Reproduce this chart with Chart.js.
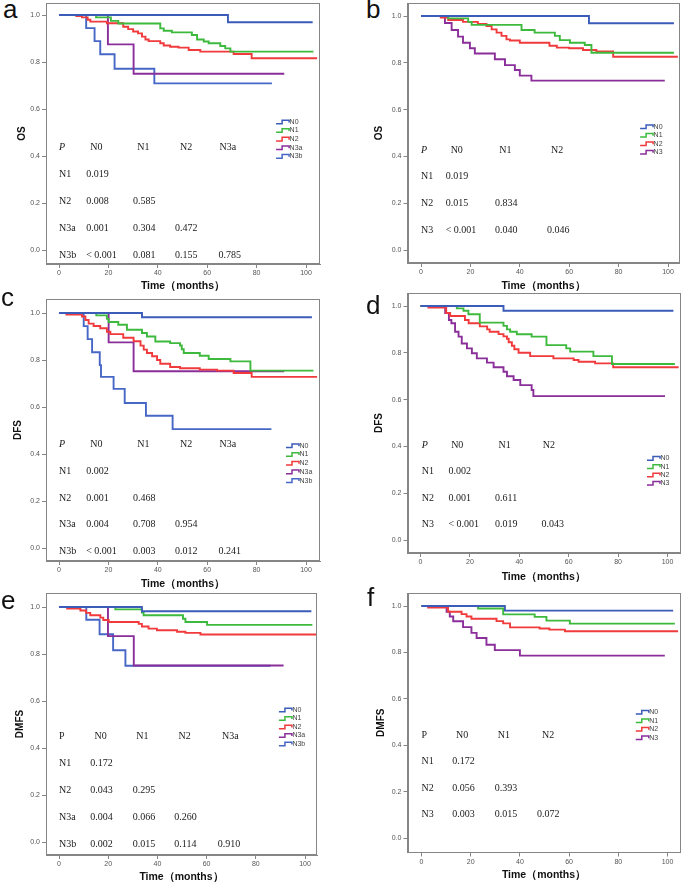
<!DOCTYPE html>
<html>
<head>
<meta charset="utf-8">
<script src="https://cdn.jsdelivr.net/npm/chart.js@4.4.1/dist/chart.umd.min.js"></script>
<style>
  body { margin: 0; background: #fff; width: 685px; height: 884px; position: relative; overflow: hidden; font-family: "Liberation Sans", Arial, sans-serif; }
  canvas { position: absolute; }
  .tag { position: absolute; font-size: 26px; line-height: 1; color: #111; }
</style>
</head>
<body>
<script>
// axis ticks
const monthTicks = [0, 20, 40, 60, 80, 100];
const survTicks = [0, 0.2, 0.4, 0.6, 0.8, 1.0];

// groups
const groups5 = ['N0', 'N1', 'N2', 'N3a', 'N3b'];
const groups4 = ['N0', 'N1', 'N2', 'N3'];

// a: OS, 5 groups  [month, survival]
const a_N0 = [[0,1],[68.4,0.969],[102.7,0.969]];
const a_N1 = [[0,1],[15,0.99],[21,0.975],[24,0.964],[41,0.943],[42.4,0.933],[45.7,0.926],[53.8,0.915],[55.9,0.896],[58.6,0.887],[60.6,0.88],[65.3,0.868],[67.3,0.858],[69.4,0.844],[103,0.844]];
const a_N2 = [[0,1],[7,0.996],[9.3,0.99],[11.6,0.98],[12.7,0.972],[19.4,0.965],[26,0.95],[28,0.94],[30,0.93],[32,0.922],[33.6,0.908],[35,0.896],[36.3,0.889],[41,0.88],[42.4,0.87],[45,0.865],[48.4,0.861],[52.5,0.851],[57.2,0.844],[70.7,0.834],[78,0.816],[104.5,0.816]];
const a_N3a = [[0,1],[19.8,0.875],[30.2,0.75],[91.2,0.75]];
const a_N3b = [[0,1],[11,0.944],[14.4,0.889],[16.7,0.833],[22.5,0.771],[38.6,0.709],[86.2,0.709]];
const aP = [['0.019'], ['0.008','0.585'], ['0.001','0.304','0.472'], ['< 0.001','0.081','0.155','0.785']];

// b: OS, 4 groups
const b_N0 = [[0,1],[68,0.969],[102.4,0.969]];
const b_N1 = [[0,1],[11,0.99],[19.1,0.975],[20.5,0.962],[40.7,0.94],[46,0.929],[54.2,0.915],[56.2,0.897],[60.3,0.886],[66.3,0.876],[69,0.843],[102.4,0.843]];
const b_N2 = [[0,1],[8,0.993],[11,0.983],[17,0.975],[23,0.966],[26.5,0.957],[28.6,0.943],[30.6,0.929],[32.6,0.915],[34.6,0.9],[36,0.895],[40,0.886],[52,0.873],[55,0.865],[60,0.862],[65.6,0.855],[71,0.848],[77.8,0.826],[104,0.826]];
const b_N3 = [[0,1],[9.7,0.97],[12.4,0.94],[15,0.912],[17,0.886],[19.8,0.862],[21.8,0.84],[29.9,0.815],[34,0.79],[38,0.769],[40,0.745],[44.7,0.724],[98.7,0.724]];
const bP = [['0.019'], ['0.015','0.834'], ['< 0.001','0.040','0.046']];

// c: DFS, 5 groups
const c_N0 = [[0,1],[33.6,0.982],[102.4,0.982]];
const c_N1 = [[0,1],[15.1,0.99],[19.4,0.975],[20.1,0.962],[24,0.95],[27.5,0.929],[33.6,0.915],[35.6,0.9],[39,0.879],[45,0.872],[49,0.862],[49.7,0.846],[50.5,0.83],[57,0.818],[60.6,0.804],[69.4,0.794],[77.5,0.755],[103,0.755]];
const c_N2 = [[0,1],[3,0.993],[9.3,0.985],[10.7,0.97],[12,0.955],[14,0.945],[16.7,0.935],[19.4,0.92],[20.8,0.91],[26,0.895],[30.2,0.88],[33,0.861],[34.3,0.844],[35.6,0.83],[37.7,0.816],[39.7,0.8],[41,0.784],[45,0.77],[49,0.765],[57,0.759],[64,0.755],[70.7,0.745],[78,0.728],[104.5,0.728]];
const c_N3a = [[0,1],[20.1,0.875],[30.2,0.752],[91.2,0.752]];
const c_N3b = [[0,1],[10,0.944],[11.6,0.889],[13.4,0.833],[16.5,0.778],[17,0.728],[22.1,0.677],[26.6,0.617],[35.2,0.563],[46,0.506],[86,0.506]];
const cP = [['0.002'], ['0.001','0.468'], ['0.004','0.708','0.954'], ['< 0.001','0.003','0.012','0.241']];

// d: DFS, 4 groups
const d_N0 = [[0,1],[33.6,0.98],[102.4,0.98]];
const d_N1 = [[0,1],[14.7,0.99],[17.4,0.98],[19.4,0.965],[24,0.929],[33.6,0.915],[35,0.9],[36.3,0.89],[39,0.879],[45,0.869],[51,0.833],[59,0.819],[60.6,0.805],[70,0.786],[77.5,0.752],[103,0.752]];
const d_N2 = [[0,1],[3.2,0.993],[10.4,0.97],[12,0.957],[18,0.94],[19.5,0.926],[24,0.913],[27,0.9],[28,0.89],[31.6,0.88],[33.6,0.87],[35,0.86],[35.7,0.845],[37,0.83],[38,0.815],[39.7,0.8],[44.4,0.786],[53.8,0.776],[62,0.769],[64,0.762],[70.7,0.755],[78,0.738],[104.5,0.738]];
const d_N3 = [[0,1],[10,0.97],[11.5,0.94],[12.5,0.926],[14,0.89],[15.4,0.869],[16.7,0.84],[18.8,0.819],[20.8,0.798],[22.8,0.776],[26.9,0.758],[29.6,0.738],[33.6,0.719],[35,0.7],[37.7,0.684],[40.4,0.662],[45,0.641],[45.7,0.615],[99,0.615]];
const dP = [['0.002'], ['0.001','0.611'], ['< 0.001','0.019','0.043']];

// e: DMFS, 5 groups
const e_N0 = [[0,1],[33.7,0.982],[102.6,0.982]];
const e_N1 = [[0,1],[22.9,0.99],[33.7,0.976],[34.4,0.965],[50.4,0.95],[51.4,0.936],[60.2,0.924],[103,0.924]];
const e_N2 = [[0,1],[3.3,0.993],[8.7,0.985],[11,0.975],[12.7,0.965],[16.8,0.955],[18,0.945],[20.2,0.936],[32.4,0.928],[33.7,0.917],[36.4,0.908],[39.8,0.901],[48,0.895],[51.4,0.89],[57.5,0.883],[104.9,0.883]];
const e_N3a = [[0,1],[19.9,0.876],[30.4,0.751],[91.3,0.751]];
const e_N3b = [[0,1],[11.1,0.946],[16.5,0.884],[22,0.816],[27,0.75],[86,0.75]];
const eP = [['0.172'], ['0.043','0.295'], ['0.004','0.066','0.260'], ['0.002','0.015','0.114','0.910']];

// f: DMFS, 4 groups
const f_N0 = [[0,1],[33.9,0.98],[102.3,0.98]];
const f_N1 = [[0,1],[23,0.989],[33.2,0.964],[46,0.953],[50.8,0.937],[60.3,0.924],[103,0.924]];
const f_N2 = [[0,1],[2.7,0.993],[10.8,0.975],[16.3,0.965],[18.3,0.955],[20.3,0.945],[30.5,0.935],[33.2,0.925],[36,0.908],[48,0.903],[52,0.898],[58.3,0.891],[104.3,0.891]];
const f_N3 = [[0,1],[10.2,0.975],[11.5,0.955],[12.9,0.934],[16.9,0.909],[20.3,0.884],[22.4,0.862],[26.4,0.833],[29.8,0.81],[40,0.786],[98.9,0.786]];
const fP = [['0.172'], ['0.056','0.393'], ['0.003','0.015','0.072']];

const colors5 = ['#3b5cb8', '#3dba3d', '#f03a3c', '#8a2e9a', '#4767c6'];
const colors4 = ['#3b5cb8', '#3dba3d', '#f03a3c', '#8a2e9a'];
const axisGray = '#858585';

Chart.defaults.font.family = '"Liberation Sans", Arial, sans-serif';

const panels = [
  { tag: 'a', tagPos: [3, -4], cv: [0, 0, 335, 292], box: [46, 3, 320, 264], x0: 59, x100: 306, y1: 15, y0: 250, yTitleX: 22, xTitleY: 287,
    yTitle: 'OS', groups: groups5, colors: colors5, curves: [a_N0, a_N1, a_N2, a_N3a, a_N3b], p: aP, italicP: true,
    legend: [87.9, 0.545, 8.6], tHead: [0, 12.7, 31.7, 49, 65], tVal: [0, 11, 30, 47, 64.6], tRow: [0.438, 0.115] },
  { tag: 'b', tagPos: [366, -4], cv: [340, 0, 685, 292], box: [407.5, 3, 679.5, 263], x0: 421, x100: 668, y1: 16, y0: 250, yTitleX: 379, xTitleY: 287,
    yTitle: 'OS', groups: groups4, colors: colors4, curves: [b_N0, b_N1, b_N2, b_N3], p: bP, italicP: true,
    legend: [88.7, 0.527, 8.5], tHead: [0, 12, 31.7, 52.6], tVal: [0, 10, 30, 51], tRow: [0.427, 0.114] },
  { tag: 'c', tagPos: [1, 284], cv: [0, 292, 335, 590], box: [46, 299, 320, 561], x0: 59, x100: 306, y1: 313, y0: 548, yTitleX: 18, xTitleY: 585,
    yTitle: 'DFS', groups: groups5, colors: colors5, curves: [c_N0, c_N1, c_N2, c_N3a, c_N3b], p: cP, italicP: true,
    legend: [91.9, 0.435, 8.7], tHead: [0, 12.7, 31.7, 49, 65], tVal: [0, 11, 30, 47, 64.6], tRow: [0.44, 0.1135] },
  { tag: 'd', tagPos: [366, 292], cv: [340, 292, 685, 590], box: [407.5, 293, 680, 553], x0: 420.5, x100: 667.5, y1: 306, y0: 540, yTitleX: 379, xTitleY: 577,
    yTitle: 'DFS', groups: groups4, colors: colors4, curves: [d_N0, d_N1, d_N2, d_N3], p: dP, italicP: true,
    legend: [91.7, 0.349, 8.3], tHead: [0.5, 12.4, 31.6, 49.5], tVal: [0.5, 11.3, 30.2, 49], tRow: [0.406, 0.113] },
  { tag: 'e', tagPos: [1, 587], cv: [0, 590, 335, 884], box: [46, 593, 317, 855], x0: 59, x100: 305, y1: 607, y0: 842, yTitleX: 20, xTitleY: 877,
    yTitle: 'DMFS', groups: groups5, colors: colors5, curves: [e_N0, e_N1, e_N2, e_N3a, e_N3b], p: eP, italicP: false,
    legend: [89.4, 0.562, 8.5], tHead: [0, 14.4, 31.4, 48.6, 66.3], tVal: [0, 12.7, 30, 46.9, 64.5], tRow: [0.448, 0.114] },
  { tag: 'f', tagPos: [367, 584], cv: [340, 590, 685, 884], box: [407.5, 593, 680.5, 852.5], x0: 421.5, x100: 667.5, y1: 606, y0: 838, yTitleX: 381, xTitleY: 875,
    yTitle: 'DMFS', groups: groups4, colors: colors4, curves: [f_N0, f_N1, f_N2, f_N3], p: fP, italicP: false,
    legend: [87.1, 0.542, 8.5], tHead: [0, 14, 31, 49], tVal: [0, 12.5, 29.8, 47], tRow: [0.443, 0.114] }
];

// box, legend and p-value table
const extras = {
  id: 'extras',
  afterDraw(chart, args, o) {
    const { ctx, chartArea: ca } = chart;
    const xs = chart.scales.x, ys = chart.scales.y;
    ctx.save();
    ctx.strokeStyle = axisGray;
    ctx.lineWidth = 1;
    ctx.strokeRect(Math.round(ca.left) + 0.5, Math.round(ca.top) + 0.5, Math.round(ca.width) - 1, Math.round(ca.height) - 1);

    const lx = xs.getPixelForValue(o.legend[0]);
    const ly = ys.getPixelForValue(o.legend[1]);
    ctx.font = '7px "Liberation Sans", Arial, sans-serif';
    ctx.textBaseline = 'middle';
    ctx.textAlign = 'left';
    o.groups.forEach((g, i) => {
      const yy = ly + i * o.legend[2];
      ctx.strokeStyle = o.colors[i];
      ctx.lineWidth = 1.5;
      ctx.beginPath();
      ctx.moveTo(lx, yy + 1.8);
      ctx.lineTo(lx + 6, yy + 1.8);
      ctx.lineTo(lx + 6, yy - 1.8);
      ctx.lineTo(lx + 13, yy - 1.8);
      ctx.lineTo(lx + 13, yy + 0.5);
      ctx.stroke();
      ctx.fillStyle = '#444';
      ctx.fillText(g, lx + 13.5, yy);
    });

    const rowY = k => ys.getPixelForValue(o.tRow[0] - k * o.tRow[1]);
    ctx.fillStyle = '#1a1a1a';
    ctx.font = (o.italicP ? 'italic ' : '') + '10px "Liberation Serif", serif';
    ctx.fillText('P', xs.getPixelForValue(o.tHead[0]), rowY(0));
    ctx.font = '10px "Liberation Serif", serif';
    o.groups.slice(0, -1).forEach((g, j) => ctx.fillText(g, xs.getPixelForValue(o.tHead[j + 1]), rowY(0)));
    o.groups.slice(1).forEach((g, i) => {
      ctx.fillText(g, xs.getPixelForValue(o.tVal[0]), rowY(i + 1));
      o.p[i].forEach((v, j) => ctx.fillText(v, xs.getPixelForValue(o.tVal[j + 1]), rowY(i + 1)));
    });
    ctx.restore();
  }
};

panels.forEach(pn => {
  const [cl, ct, cr, cb] = pn.cv;
  const [bl, bt, br, bb] = pn.box;
  const pxm = (pn.x100 - pn.x0) / 100;
  const pxs = pn.y0 - pn.y1;

  const tag = document.createElement('div');
  tag.className = 'tag';
  tag.textContent = pn.tag;
  tag.style.left = pn.tagPos[0] + 'px';
  tag.style.top = pn.tagPos[1] + 'px';
  document.body.appendChild(tag);

  const canvas = document.createElement('canvas');
  canvas.width = cr - cl;
  canvas.height = cb - ct;
  canvas.style.left = cl + 'px';
  canvas.style.top = ct + 'px';
  document.body.appendChild(canvas);

  const titleFont = 10.5;
  new Chart(canvas, {
    type: 'line',
    data: {
      datasets: pn.curves.map((c, i) => ({
        label: pn.groups[i],
        data: c.map(p => ({ x: p[0], y: p[1] })),
        borderColor: pn.colors[i],
        borderWidth: 1.9,
        stepped: 'before',
        pointRadius: 0,
        fill: false
      }))
    },
    options: {
      responsive: false,
      devicePixelRatio: 1,
      animation: false,
      layout: { padding: { left: 0, top: bt - ct, right: cr - br, bottom: 0 } },
      plugins: {
        legend: { display: false },
        tooltip: { enabled: false },
        extras: pn
      },
      scales: {
        x: {
          type: 'linear',
          min: (bl - pn.x0) / pxm,
          max: (br - pn.x0) / pxm,
          afterBuildTicks: s => { s.ticks = monthTicks.map(v => ({ value: v })); },
          afterFit: s => { s.height = cb - bb; s.paddingLeft = 0; s.paddingRight = 0; },
          grid: { drawOnChartArea: false, drawTicks: true, tickLength: 4, color: axisGray },
          border: { display: true, color: axisGray },
          ticks: { font: { size: 7 }, color: '#555', padding: 1, maxRotation: 0, autoSkip: false, callback: v => v },
          title: {
            display: true, text: 'Time（months）', color: '#111',
            font: { size: titleFont, weight: 'bold' },
            padding: { top: 0, bottom: Math.max(0, cb - pn.xTitleY - titleFont * 0.6) }
          }
        },
        y: {
          type: 'linear',
          min: -(bb - pn.y0) / pxs,
          max: 1 + (pn.y1 - bt) / pxs,
          afterBuildTicks: s => { s.ticks = survTicks.map(v => ({ value: v })); },
          afterFit: s => { s.width = bl - cl; s.paddingTop = 0; s.paddingBottom = 0; },
          grid: { drawOnChartArea: false, drawTicks: true, tickLength: 4, color: axisGray },
          border: { display: true, color: axisGray },
          ticks: { font: { size: 7 }, color: '#555', padding: 2, autoSkip: false, callback: v => v.toFixed(1) },
          title: {
            display: true, text: pn.yTitle, color: '#111',
            font: { size: 10, weight: 'bold' },
            padding: { top: pn.yTitleX - cl - 6, bottom: 0 }
          }
        }
      }
    },
    plugins: [extras]
  });
});
</script>
</body>
</html>
